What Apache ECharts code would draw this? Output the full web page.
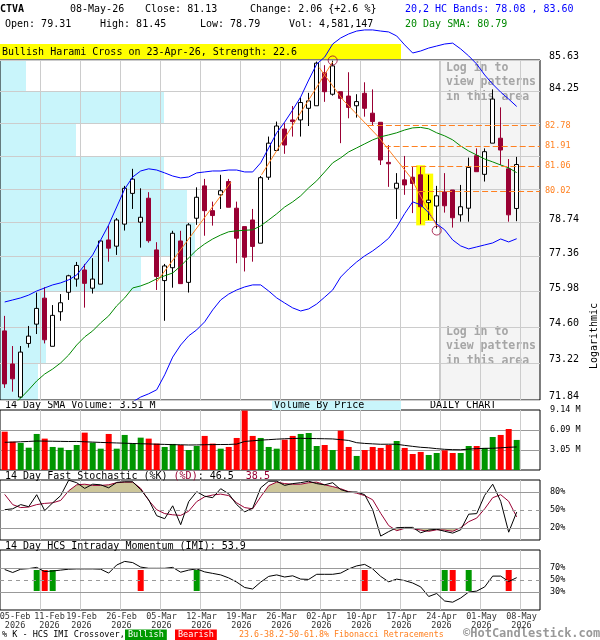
<!DOCTYPE html>
<html><head><meta charset="utf-8">
<script src="https://cdn.jsdelivr.net/npm/echarts@6.0.0/dist/echarts.min.js"></script>
<style>html,body{margin:0;padding:0;background:#fff}#c{width:600px;height:640px}</style>
</head><body><div id="c"></div>
<script>
// ---------------- data ----------------
const dates = ['05-Feb','06-Feb','09-Feb','10-Feb','11-Feb','12-Feb','13-Feb','17-Feb','18-Feb','19-Feb','20-Feb','23-Feb','24-Feb','25-Feb','26-Feb','27-Feb',
'02-Mar','03-Mar','04-Mar','05-Mar','06-Mar','09-Mar','10-Mar','11-Mar','12-Mar','13-Mar','16-Mar','17-Mar','18-Mar','19-Mar','20-Mar','23-Mar','24-Mar','25-Mar','26-Mar','27-Mar','30-Mar','31-Mar',
'01-Apr','02-Apr','06-Apr','07-Apr','08-Apr','09-Apr','10-Apr','13-Apr','14-Apr','15-Apr','16-Apr','17-Apr','20-Apr','21-Apr','22-Apr','23-Apr','24-Apr','27-Apr','28-Apr','29-Apr','30-Apr',
'01-May','04-May','05-May','06-May','07-May','08-May'];
const year = '2026';
const opens  = [74.45,73.19,71.95,73.97,74.71,75.72,73.86,75.19,75.95,76.47, 76.83,76.11,76.27,78.03,77.78,78.67,79.93,78.75,79.73,77.63,
 76.41,76.92,77.99,76.34,78.91,80.24,79.22,79.87,80.42,79.32, 78.57,78.84,77.90,80.60,81.72,82.63,83.02,83.02,83.52,83.63,
 85.07,84.13,84.24,84.05,83.63,84.17,83.31,82.92,81.22,80.14, 80.49,80.60,80.70,79.55,79.41,79.99,80.07,79.05,79.32,81.50,
 80.72,82.03,82.24,80.95,79.31];
const closes = [72.44,72.63,73.64,74.25,75.32,74.11,75.05,75.54,76.60,77.01, 76.30,76.47,77.99,77.70,78.84,80.14,80.52,78.95,78.00,76.57,
 76.99,78.30,76.29,78.64,79.77,79.22,79.02,80.04,79.36,78.10, 77.34,77.77,80.58,82.03,82.76,81.95,82.95,83.77,83.84,85.49,
 84.24,85.37,83.95,83.56,83.81,83.52,82.95,81.32,81.16,80.35, 80.28,80.34,79.38,79.65,79.83,79.42,78.93,79.38,81.01,80.83,
 81.67,83.92,81.74,79.05,81.13];
const lows   = [72.29,72.15,71.91,73.81,74.33,73.97,73.86,74.84,75.65,76.17, 75.35,75.90,76.27,77.16,77.43,78.41,79.29,77.72,77.92,76.04,
 74.84,76.13,76.29,75.94,78.64,78.20,78.61,79.29,79.36,77.10, 76.77,77.16,77.90,80.49,81.72,81.58,82.31,82.31,82.76,83.63,
 83.80,84.07,82.03,83.09,83.12,83.16,82.76,81.11,80.20,78.88, 79.87,79.12,78.67,78.84,78.50,79.14,78.53,78.77,78.77,80.83,
 80.42,82.03,81.11,78.77,78.79];
const highs  = [75.03,73.87,73.87,74.64,75.94,76.15,75.45,75.88,76.64,77.15, 77.07,77.30,78.00,78.60,78.92,80.24,80.95,80.14,79.98,77.94,
 77.07,78.40,78.40,78.71,80.18,80.53,79.59,80.70,80.53,79.59, 78.57,79.29,80.65,82.31,82.95,82.88,83.62,83.98,84.19,85.56,
 85.40,85.60,84.24,85.09,84.13,84.65,84.34,82.92,81.95,80.77, 81.49,81.04,81.04,80.70,80.24,80.77,80.07,80.28,81.42,81.81,
 81.81,84.34,83.56,81.36,81.45];
const volumes = [5.84,4.32,4.12,3.40,5.49,4.78,3.51,3.40,3.05,3.81, 5.69,4.17,3.25,5.49,3.25,5.34,4.07,4.93,4.78,4.02,
 3.51,3.97,3.81,3.05,3.66,5.19,4.02,3.25,3.51,4.88, 9.05,5.19,4.88,3.51,3.25,4.62,5.19,5.49,5.64,3.66,
 3.81,3.05,6.00,3.51,2.14,3.05,3.51,3.36,3.81,4.42, 3.36,2.44,2.75,2.29,2.59,3.00,2.59,2.59,3.66,3.66,
 3.36,5.03,5.34,6.25,4.58];
const volSma14 = [4.22,4.25,4.30,4.35,4.42,4.40,4.38,4.36,4.34,4.35, 4.30,4.25,4.20,4.16,4.12,4.08,4.04,4.00,3.97,3.93,
 3.90,3.86,3.84,3.81,3.82,3.85,3.87,3.88,3.89,3.95, 4.35,4.45,4.55,4.62,4.70,4.76,4.80,4.83,4.80,4.78,
 4.76,4.73,4.62,4.50,4.16,4.05,3.98,3.92,3.93,3.92, 3.75,3.60,3.46,3.38,3.25,3.15,3.10,3.08,3.18,3.25,
 3.30,3.31,3.38,3.46,3.51];
const sma20 = [71.36,71.66,71.91,72.22,72.55,72.81,73.00,73.23,73.53,73.91, 74.22,74.45,74.76,75.03,75.42,75.73,76.12,76.20,76.32,76.48,
 76.60,76.71,76.99,77.31,77.63,77.87,78.07,78.23,78.36,78.40, 78.42,78.44,78.60,78.84,79.09,79.37,79.58,79.83,80.16,80.45,
 80.82,81.20,81.41,81.66,81.83,82.00,82.17,82.30,82.38,82.47, 82.59,82.68,82.70,82.64,82.47,82.34,82.17,81.91,81.70,81.53,
 81.36,81.24,81.11,80.99,80.79];
const hcUpper = [75.57,75.65,75.73,75.84,76.00,76.12,76.24,76.32,76.44,76.63, 77.03,77.43,78.03,78.64,79.37,80.11,80.61,80.86,80.95,80.90,
 80.78,80.65,80.57,80.61,80.78,80.82,80.86,80.86,80.90,80.90, 80.82,80.82,81.20,81.83,82.47,82.93,83.45,84.01,84.75,85.45,
 85.76,86.34,86.61,86.79,86.92,86.97,86.97,86.92,86.88,86.70, 86.30,85.94,86.03,86.16,86.25,86.34,86.38,86.12,85.81,85.45,
 84.97,84.57,84.22,83.92,83.60];
const hcLower = [null,null,null,null,null,null,null,null,null,null, null,null,null,null,71.17,71.47,71.77,71.95,72.07,72.22,
 72.78,73.45,73.91,74.26,74.49,74.80,75.26,75.65,75.88,76.04, 76.16,76.24,76.24,76.00,75.73,75.53,75.34,75.22,75.30,75.49,
 75.76,76.04,76.55,76.87,77.15,77.39,77.59,77.83,78.10,78.55, 79.10,79.58,79.46,79.13,78.68,78.44,78.03,77.79,77.67,77.75,
 77.83,77.91,78.07,77.95,78.08];
const stochK = [50.5,52,59,55.5,75.5,49,62,74,99.7,95.5, 86,93,92,87,96,97,97,84,67,40.5,
 35.5,57,25.5,64,80.5,73,70.5,85.5,77,59, 47,53,87,98,98,91,94,95.5,98,94,
 92,95.5,84,80,80,75.5,50.5,6.5,14,20.5, 21,21,12,16.5,18,14.5,11.5,17,43,44,
 74.5,93,64.5,13,46.5];
const stochD = [76,59,54,55,59,61,62,66,82,92, 93,91,91,92,95.5,96.5,96.5,86,66,50.5,
 44,42,41,48,64,72,75,76.5,74,62, 54,52,72,90.5,96.5,94,93,93,95.5,96.5,
 92,89,85.5,80.5,78,74,67,44.5,24,15.5, 19.5,19,16.5,14.5,17,16.5,14.5,20.5,30.5,36.5,
 52,70.5,75.5,64.5,38.5];
const imi = [67.5,62.5,68,69,71,64,65,66.5,68,68.5, 68.5,68.5,68,61.5,75,81,79,71.5,69.5,69.5,
 69.5,71,63,66.5,68.5,63.5,61,58.5,53.5,46.5, 37.5,35,46.5,56,58.5,55,57,51.5,51,59.5,
 59.5,59.5,61.5,68.5,73.5,76,68.5,56,47,51.5, 49,45,38.5,22.5,27.5,15,13,20,30,31.5,
 38.5,56.5,56.5,47.5,53.9];
const imiBullish = [4,6,24,55,58];
const imiBearish = [5,17,45,56,63];
const imiBarRange = [31.7, 66.7];
const priceTicks = [71.84,73.22,74.60,75.98,77.36,78.74,80.11,81.49,82.87,84.25,85.63];
const priceLabels = [71.84,73.22,74.60,75.98,77.36,78.74,84.25,85.63];
const fibLevels = [80.02,81.06,81.91,82.78];
const fibStart = [51.8,49.7,47.5,45.4];
const vbpVolume = [3.8,4.6,4.6,14.1,19.5,18.7,16.4,7.6,16.4,2.6]; // per price band, bottom to top
const trendLines = [
  [[19,76.36],[28.3,80.40]],
  [[32.1,80.70],[41,85.55]],
  [[39.3,85.30],[42.3,83.88],[46.7,82.30],[50.7,80.61],[54,78.60]]
];
const pivots = [[41,85.61],[54,78.41]];
const harami = [[52,81.10,78.62],[53,80.75,78.80]];
const xLabelIdx = [0,4,9,14,19,24,29,34,39,44,49,54,59,64];
const volTicks = [3.05,6.09,9.14];
const stochTicks = [20,50,80];
const imiTicks = [30,50,70];

// ---------------- layout ----------------
const F = 'DejaVu Sans Mono';
const XMIN = -0.5875, XMAX = 66.9125;
const LOCK_FROM = 54.41;
const gridLines = xLabelIdx.slice(1).map(i => i + 0.42);
const labelShift = {0: 1.3, 4: 1.6};
const labelPos = xLabelIdx.map(i => i + (labelShift[i] !== undefined ? labelShift[i] : 0.6));
const MAROON = '#990033', ORANGE = '#ff8020';

function xAx(gi, labels) {
  const a = {type:'value', gridIndex:gi, min:XMIN, max:XMAX,
    axisLine:{show:false}, axisTick:{show:false, customValues:gridLines},
    splitLine:{show:true, lineStyle:{color:'#cccccc', width:1}},
    axisLabel:{show:false}};
  if (labels) {
    a.axisLabel = {show:true, customValues: labelPos, margin:2, hideOverlap:false, showMinLabel:true, showMaxLabel:true,
      formatter: v => { let k = 0, best = 1e9; labelPos.forEach((p, j) => { if (Math.abs(p - v) < best) { best = Math.abs(p - v); k = j; } });
        return dates[xLabelIdx[k]] + '\n' + year; },
      fontFamily:F, fontSize:8.5, color:'#333', lineHeight:9};
  }
  return a;
}
function hidY(gi, mn, mx) { return {type:'value', gridIndex:gi, min:mn, max:mx, show:false}; }

const T = (x, y, text, size, color, extra) => Object.assign({type:'text', x, y,
  style:{text, font:(size||10)+'px "'+F+'"', fill:color||'#000', align:'left', verticalAlign:'middle'}}, extra||{});
const TB = (x, y, text, size, color, extra) => { const t = T(x,y,text,size,color,extra); t.style.font = 'bold '+t.style.font; return t; };

const graphics = [
  TB(0, 9, 'CTVA'),
  T(70, 9, '08-May-26'), T(145, 9, 'Close: 81.13'), T(250, 9, 'Change: 2.06 {+2.6 %}'),
  T(405, 9, '20,2 HC Bands: 78.08 , 83.60', 10, '#0000ff'),
  T(5, 24, 'Open: 79.31'), T(100, 24, 'High: 81.45'), T(200, 24, 'Low: 78.79'), T(289, 24, 'Vol: 4,581,147'),
  T(405, 24, '20 Day SMA: 80.79', 10, '#008800'),
  {type:'rect', shape:{x:0, y:44, width:401, height:15}, style:{fill:'#ffff00'}},
  T(2, 52, 'Bullish Harami Cross on 23-Apr-26, Strength: 22.6'),
  TB(446, 68, 'Log in to', 11.5, '#a6a6a6'), TB(446, 82, 'view patterns', 11.5, '#a6a6a6'), TB(446, 97, 'in this area', 11.5, '#a6a6a6'),
  TB(446, 332, 'Log in to', 11.5, '#a6a6a6'), TB(446, 346, 'view patterns', 11.5, '#a6a6a6'), TB(446, 361, 'in this area', 11.5, '#a6a6a6'),
  T(594, 336, 'Logarithmic', 10, '#000', {rotation:Math.PI/2, style:{text:'Logarithmic', font:'10px "'+F+'"', fill:'#000', align:'center', verticalAlign:'middle'}}),
  T(5, 405, '14 Day SMA Volume: 3.51 M'),
  {type:'rect', shape:{x:272, y:400, width:129, height:10}, style:{fill:'#c9f5fb'}},
  T(274, 405, 'Volume By Price'),
  T(430, 405, 'DAILY CHART'),
  {type:'text', x:5, y:476, style:{text:'{k|14 Day Fast Stochastic (%K) }{d|(%D)}{k|: 46.5  }{d|38.5}', verticalAlign:'middle',
    rich:{k:{font:'10px "'+F+'"', fill:'#000'}, d:{font:'10px "'+F+'"', fill:MAROON}}}},
  T(5, 546, '14 Day HCS Intraday Momentum (IMI): 53.9'),
  T(2, 635, '% K - HCS IMI Crossover,', 8.5),
  T(125, 635, 'Bullish', 8.5, '#fff', {style:{text:'Bullish', font:'8.5px "'+F+'"', fill:'#fff', align:'left', verticalAlign:'middle', backgroundColor:'#009900', padding:[1,3,1,3]}}),
  T(175, 635, 'Bearish', 8.5, '#fff', {style:{text:'Bearish', font:'8.5px "'+F+'"', fill:'#fff', align:'left', verticalAlign:'middle', backgroundColor:'#ff0000', padding:[1,3,1,3]}}),
  T(239, 635, '23.6-38.2-50-61.8% Fibonacci Retracements', 8.3, ORANGE),
  TB(463, 634, '\u00A9HotCandlestick.com', 12, '#999')
];

const gridBase = {left:0, width:540, show:true, borderColor:'#000', borderWidth:1, backgroundColor:'transparent', outerBoundsMode:'none', containLabel:false};
const option = {
  animation:false,
  textStyle:{fontFamily:F},
  grid:[
    Object.assign({}, gridBase, {top:60, height:340}),
    Object.assign({}, gridBase, {top:410, height:60}),
    Object.assign({}, gridBase, {top:480, height:60}),
    Object.assign({}, gridBase, {top:550, height:60}),
    {left:0, width:540, top:480, height:12, show:false, outerBoundsMode:'none'},
    {left:0, width:540, top:528, height:12, show:false, outerBoundsMode:'none'}
  ],
  xAxis:[ xAx(0), xAx(1), xAx(2), xAx(3,true),
    {type:'value', gridIndex:4, min:XMIN, max:XMAX, show:false},
    {type:'value', gridIndex:5, min:XMIN, max:XMAX, show:false},
    {type:'value', gridIndex:0, min:0, max:54, show:false} ],
  yAxis:[
    {type:'log', logBase:10, gridIndex:0, min:71.84, max:85.63, position:'right',
      axisLine:{show:false}, axisTick:{show:false, customValues:priceTicks},
      splitLine:{show:true, lineStyle:{color:'#cccccc'}},
      axisLabel:{customValues: priceLabels.concat(fibLevels), margin:5, hideOverlap:false,
        formatter: v => (fibLevels.some(f => Math.abs(f - v) < 1e-6) ? '{f|' : '{m|') + v.toFixed(2) + '}',
        rich:{ m:{fontFamily:F, fontSize:10, color:'#000', padding:[0,0,7,4]}, f:{fontFamily:F, fontSize:8.5, color:ORANGE} }}},
    {type:'value', gridIndex:1, min:0, max:9.14, position:'right',
      axisLine:{show:false}, axisTick:{show:false, customValues:[3.05,6.09]},
      splitLine:{show:true, lineStyle:{color:'#999'}},
      axisLabel:{customValues:volTicks, formatter: v => v.toFixed(2)+' M', fontFamily:F, fontSize:8.5, color:'#000', margin:10}},
    {type:'value', gridIndex:2, min:0, max:100, position:'right',
      axisLine:{show:false}, axisTick:{show:false}, splitLine:{show:false},
      axisLabel:{customValues:stochTicks, formatter:'{value}%', fontFamily:F, fontSize:8.5, color:'#000', margin:10}},
    {type:'value', gridIndex:3, min:0, max:100, position:'right',
      axisLine:{show:false}, axisTick:{show:false}, splitLine:{show:false},
      axisLabel:{customValues:imiTicks, formatter:'{value}%', fontFamily:F, fontSize:8.5, color:'#000', margin:10}},
    hidY(4, 80, 100), hidY(5, 0, 20)
  ],
  graphic: graphics,
  series:[
    { type:'custom', name:'lock', xAxisIndex:0, yAxisIndex:0, z:-2, silent:true,
      data:[[LOCK_FROM, XMAX]], encode:{x:[0,1]},
      renderItem:(params, api) => {
        const cs = params.coordSys; const a = api.coord([api.value(0), 85.63]); const b = api.coord([api.value(1), 85.63]);
        return {type:'group', children:[
          {type:'rect', shape:{x:a[0], y:cs.y, width:b[0]-a[0], height:cs.height}, style:{fill:'#f4f4f4'}},
          {type:'line', shape:{x1:a[0], y1:cs.y, x2:a[0], y2:cs.y+cs.height}, style:{stroke:'#999', lineWidth:1}}
        ]};
      }},
    { type:'custom', name:'vbp', xAxisIndex:6, yAxisIndex:0, z:-1, silent:true,
      data: vbpVolume.map((v,j) => [v, priceTicks[j], priceTicks[j+1]]), encode:{x:0, y:[1,2]},
      renderItem:(params, api) => {
        const a = api.coord([0, api.value(2)]), b = api.coord([api.value(0), api.value(1)]);
        return {type:'rect', shape:{x:a[0], y:a[1], width:b[0]-a[0], height:b[1]-a[1]}, style:{fill:'#c9f5fb'}};
      }},
    { type:'custom', name:'harami', xAxisIndex:0, yAxisIndex:0, z:1, silent:true,
      data: harami, encode:{x:0, y:[1,2]},
      renderItem:(params, api) => {
        const a = api.coord([api.value(0), api.value(1)]), b = api.coord([api.value(0), api.value(2)]);
        return {type:'rect', shape:{x:a[0]-4.5, y:a[1], width:9, height:b[1]-a[1]}, style:{fill:'#ffff00'}};
      }},
    { type:'candlestick', xAxisIndex:0, yAxisIndex:0, z:2, barWidth:5,
      data: opens.map((o,i) => [i, o, closes[i], lows[i], highs[i]]), encode:{x:0, y:[1,2,3,4]},
      itemStyle:{color:'#ffffff', color0:MAROON, borderColor:'#000000', borderColor0:MAROON, borderWidth:1},
      markLine:{silent:true, symbol:['none','none'], label:{show:false}, animation:false,
        lineStyle:{color:ORANGE, type:[6,3], width:1},
        data: fibLevels.map((v,k) => [{coord:[fibStart[k], v]}, {coord:[XMAX, v]}])}},
    { type:'line', name:'sma20', xAxisIndex:0, yAxisIndex:0, z:3, symbol:'none', clip:true,
      data: sma20.map((v,i) => [i,v]), lineStyle:{color:'#008800', width:1}},
    { type:'line', name:'upper', xAxisIndex:0, yAxisIndex:0, z:3, symbol:'none', clip:false,
      data: hcUpper.map((v,i) => [i,v]), lineStyle:{color:'#0000ff', width:1}},
    { type:'line', name:'lower', xAxisIndex:0, yAxisIndex:0, z:3, symbol:'none', clip:true,
      data: hcLower.map((v,i) => [i,v]), lineStyle:{color:'#0000ff', width:1}},
    ...trendLines.map(tl => ({ type:'line', xAxisIndex:0, yAxisIndex:0, z:3, symbol:'none', clip:false,
      data: tl, lineStyle:{color:ORANGE, width:1}})),
    { type:'scatter', xAxisIndex:0, yAxisIndex:0, z:4, clip:false, symbol:'circle', symbolSize:9,
      data: pivots, itemStyle:{color:'rgba(0,0,0,0)', borderColor:MAROON, borderWidth:1}},
    { type:'bar', xAxisIndex:1, yAxisIndex:1, z:2, barWidth:6,
      data: volumes.map((v,i) => ({value:[i,v], itemStyle:{color: closes[i] >= opens[i] ? '#009600' : '#ff0000'}}))},
    { type:'line', xAxisIndex:1, yAxisIndex:1, z:3, symbol:'none',
      data: volSma14.map((v,i) => [i,v]), lineStyle:{color:'#000', width:1}},
    { type:'line', xAxisIndex:4, yAxisIndex:4, z:1, symbol:'none', clip:true,
      data: stochD.map((v,i) => [i,v]), lineStyle:{width:0, opacity:0}, areaStyle:{color:'#cdc69a', opacity:1, origin:'start'}},
    { type:'line', xAxisIndex:5, yAxisIndex:5, z:1, symbol:'none', clip:true,
      data: stochD.map((v,i) => [i,v]), lineStyle:{width:0, opacity:0}, areaStyle:{color:'#cdc69a', opacity:1, origin:'end'}},
    { type:'line', xAxisIndex:2, yAxisIndex:2, z:3, symbol:'none',
      data: stochD.map((v,i) => [i,v]), lineStyle:{color:MAROON, width:1}},
    { type:'line', xAxisIndex:2, yAxisIndex:2, z:3, symbol:'none',
      data: stochK.map((v,i) => [i,v]), lineStyle:{color:'#000', width:1},
      markLine:{silent:true, symbol:['none','none'], label:{show:false}, animation:false, lineStyle:{color:'#999', width:1, type:'solid'},
        data:[{yAxis:80}, {yAxis:50, lineStyle:{type:[4,4]}}, {yAxis:20}]}},
    { type:'custom', xAxisIndex:3, yAxisIndex:3, z:2, silent:true,
      data: imiBullish.map(i => [i, imiBarRange[1], imiBarRange[0], 1]).concat(imiBearish.map(i => [i, imiBarRange[1], imiBarRange[0], 0])),
      encode:{x:0, y:[1,2]},
      renderItem:(params, api) => {
        const a = api.coord([api.value(0), api.value(1)]), b = api.coord([api.value(0), api.value(2)]);
        return {type:'rect', shape:{x:a[0]-3, y:a[1], width:6, height:b[1]-a[1]}, style:{fill: api.value(3) ? '#009900' : '#ff0000'}};
      }},
    { type:'line', xAxisIndex:3, yAxisIndex:3, z:3, symbol:'none',
      data: imi.map((v,i) => [i,v]), lineStyle:{color:'#000', width:1},
      markLine:{silent:true, symbol:['none','none'], label:{show:false}, animation:false, lineStyle:{color:'#999', width:1, type:'solid'},
        data:[{yAxis:70}, {yAxis:50, lineStyle:{type:[4,4]}}, {yAxis:30}]}}
  ]
};
const chart = echarts.init(document.getElementById('c'));
chart.setOption(option);
</script>
</body></html>
